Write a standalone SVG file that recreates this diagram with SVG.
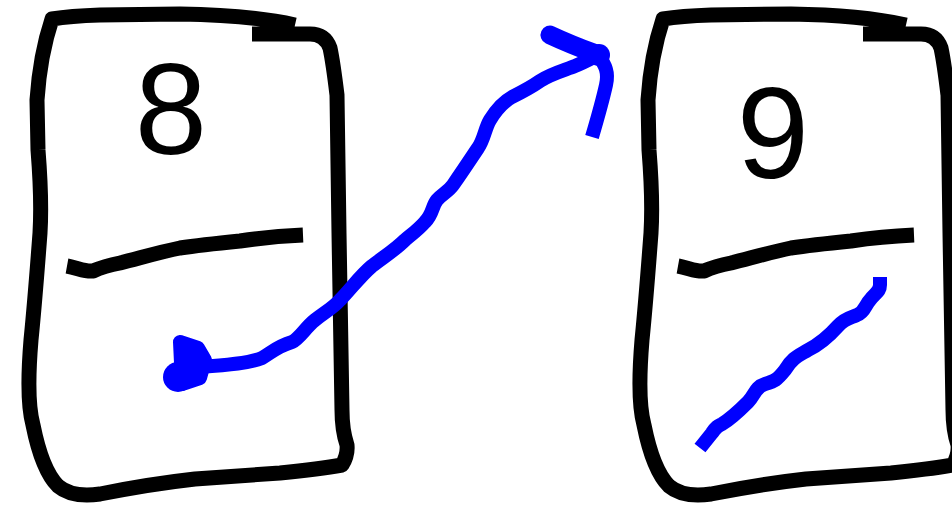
<svg xmlns="http://www.w3.org/2000/svg" width="952" height="508" viewBox="0 0 952 508">
<style>
.ink{fill:none;stroke:#000;stroke-width:15;stroke-linejoin:round;stroke-linecap:butt}
.blue{fill:none;stroke:#0000ff;stroke-width:14;stroke-linejoin:round;stroke-linecap:butt}
.dot{fill:#0000ff}
.num{font-family:"Liberation Sans",Arial,sans-serif;font-size:130px;fill:#000;text-anchor:middle}
</style>
<defs>
<g id="box">
<path class="ink" d="M 295,25 Q 250,15 180,14 L 100,15 Q 70,16 52,19 Q 40,55 37,100 L 38,150 Q 42,200 40,233 Q 35,300 31,340 Q 26,400 33,425 Q 42,470 58,486 Q 72,498 100,494 Q 150,484 195,479 L 280,473 Q 320,469 342,465 Q 348,455 347,445 Q 342,430 342,410 L 339,233 Q 338,150 337,95 Q 333,62 330,48 Q 325,34 310,34 L 252,34"/>
<path class="ink" d="M 67,266 C 78,268 85,272 93,271 C 100,268 105,266 120,263 C 140,258 160,252 180,248 C 200,245 220,243 240,241 C 260,238 280,236 303,235"/>
</g>
</defs>
<g id="node8">
<use href="#box"/>
<text class="num" x="171" y="154">8</text>
</g>
<g id="node9">
<use href="#box" transform="translate(611,0)"/>
<text class="num" x="773" y="178">9</text>
<path class="blue" d="M 700,448 L 712,433 C 716,427 718,426 722,424 C 732,418 740,410 748,402 C 755,395 755,387 765,384 C 775,381 777,380 785,370 C 792,358 798,356 808,350 C 822,343 830,335 838,326 C 845,318 850,318 857,315 C 865,312 865,305 870,300 C 875,293 880,292 880,285 L 880,277"/>
</g>
<g id="connectors">
<circle class="dot" cx="178" cy="377" r="15"/>
<path class="blue" style="fill:#0000ff" d="M 180,342 L 198,348 L 205,360 L 200,378 L 182,384 Z"/>
<path class="blue" style="stroke-linecap:round" d="M 200,367 C 230,365 250,363 262,358 C 272,352 278,346 292,342 C 300,338 305,328 315,320 C 325,312 333,308 340,300 C 350,290 360,276 372,266 C 385,256 395,250 405,240 C 412,234 418,230 425,222 C 433,214 432,206 437,200 C 442,194 448,192 453,185 C 462,172 470,160 478,148 C 484,140 485,128 490,120 C 496,110 503,102 512,97 C 522,92 530,88 540,81 C 550,74 565,70 575,66 C 585,62 592,58 598,55"/>
<path class="blue" style="stroke-linecap:round;stroke-width:19" d="M 550,35 C 565,42 580,48 596,54"/>
<circle class="dot" cx="599" cy="55" r="11"/>
<path class="blue" d="M 599,56 C 605,65 609,72 606,85 C 602,103 597,120 592,137"/>
</g>
</svg>
